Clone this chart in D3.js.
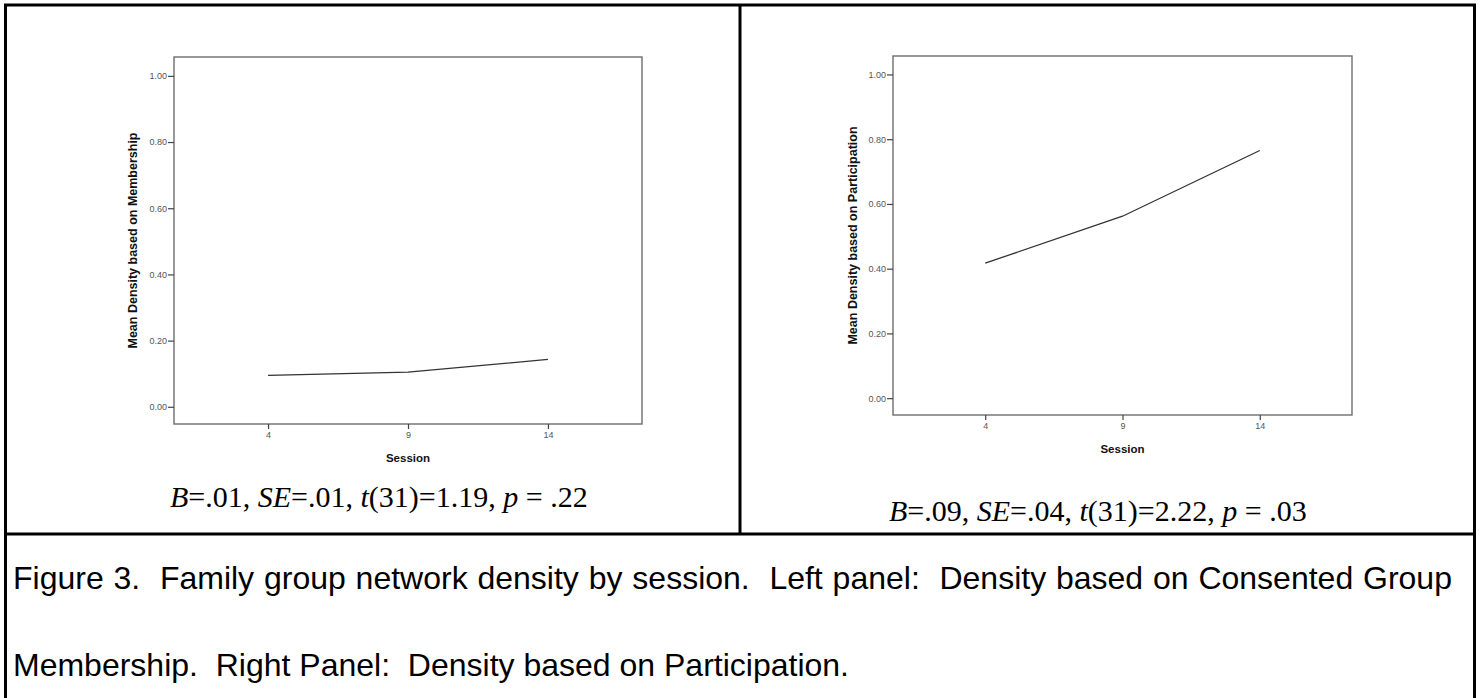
<!DOCTYPE html>
<html>
<head>
<meta charset="utf-8">
<script src="https://cdn.jsdelivr.net/npm/d3@7"></script>
<style>
  html, body { margin: 0; padding: 0; background: #fff; }
  svg { display: block; }
</style>
</head>
<body>
<svg id="fig" width="1481" height="698"></svg>
<script>
// ---- data ----
const sessions = [4, 9, 14];
const membershipDensity = [0.095, 0.105, 0.143];
const participationDensity = [0.417, 0.562, 0.765];
const yTickValues = [0, 0.2, 0.4, 0.6, 0.8, 1.0];
const xTickValues = [4, 9, 14];
const yTitles = ["Mean Density based on Membership", "Mean Density based on Participation"];
const xTitle = "Session";
const statsLeft = [["B", true], ["=.01, ", false], ["SE", true], ["=.01, ", false], ["t", true], ["(31)=1.19, ", false], ["p", true], [" = .22", false]];
const statsRight = [["B", true], ["=.09, ", false], ["SE", true], ["=.04, ", false], ["t", true], ["(31)=2.22, ", false], ["p", true], [" = .03", false]];
const captionLines = [
  "Figure 3.  Family group network density by session.  Left panel:  Density based on Consented Group",
  "Membership.  Right Panel:  Density based on Participation."
];

const svg = d3.select("#fig");
svg.append("rect").attr("width", 1481).attr("height", 698).attr("fill", "#fff");

// ---- table borders ----
const tbl = svg.append("g").attr("stroke", "#000").attr("stroke-width", 3);
tbl.append("line").attr("x1", 4).attr("x2", 1476).attr("y1", 5).attr("y2", 5);
tbl.append("line").attr("x1", 5.5).attr("x2", 5.5).attr("y1", 4).attr("y2", 698);
tbl.append("line").attr("x1", 1474.5).attr("x2", 1474.5).attr("y1", 4).attr("y2", 698);
tbl.append("line").attr("x1", 4).attr("x2", 1476).attr("y1", 534).attr("y2", 534);
tbl.append("line").attr("x1", 740).attr("x2", 740).attr("y1", 4).attr("y2", 534);

// ---- panels ----
const panels = [
  { values: membershipDensity, title: yTitles[0], x0: 174, x1: 642, y0: 57, y1: 424, ytx: 133 },
  { values: participationDensity, title: yTitles[1], x0: 893, x1: 1352, y0: 56, y1: 415, ytx: 853 }
];

panels.forEach(p => {
  const x = d3.scaleLinear().domain([0.64, 17.36]).range([p.x0, p.x1]);
  const y = d3.scaleLinear().domain([-0.052, 1.057]).range([p.y1, p.y0]);
  const g = svg.append("g");

  g.append("rect")
    .attr("x", p.x0).attr("y", p.y0)
    .attr("width", p.x1 - p.x0).attr("height", p.y1 - p.y0)
    .attr("fill", "none").attr("stroke", "#6e6e6e").attr("stroke-width", 1.4);

  const ya = g.append("g").attr("transform", `translate(${p.x0},0)`)
    .call(d3.axisLeft(y).tickValues(yTickValues).tickFormat(d3.format(".2f")).tickSize(6).tickPadding(1));
  ya.select(".domain").remove();
  ya.selectAll(".tick line").attr("stroke", "#444").attr("stroke-width", 1.2);
  ya.selectAll(".tick text").attr("fill", "#555").style("font-family", "Liberation Sans, Arial, sans-serif").style("font-size", "9px");

  const xa = g.append("g").attr("transform", `translate(0,${p.y1})`)
    .call(d3.axisBottom(x).tickValues(xTickValues).tickFormat(d3.format("d")).tickSize(5).tickPadding(3));
  xa.select(".domain").remove();
  xa.selectAll(".tick line").attr("stroke", "#444").attr("stroke-width", 1.2);
  xa.selectAll(".tick text").attr("fill", "#555").style("font-family", "Liberation Sans, Arial, sans-serif").style("font-size", "9px");

  const pts = sessions.map((s, i) => [s, p.values[i]]);
  g.append("path").datum(pts)
    .attr("fill", "none").attr("stroke", "#333").attr("stroke-width", 1.3)
    .attr("d", d3.line().x(d => x(d[0])).y(d => y(d[1])));

  g.append("text")
    .attr("transform", `translate(${p.ytx},${(p.y0 + p.y1) / 2}) rotate(-90)`)
    .attr("text-anchor", "middle").attr("dominant-baseline", "central")
    .style("font-family", "Liberation Sans, Arial, sans-serif").style("font-size", "12.5px").style("font-weight", "bold")
    .attr("fill", "#111").text(p.title);
  g.append("text")
    .attr("x", (p.x0 + p.x1) / 2).attr("y", p.y1 + 34)
    .attr("text-anchor", "middle").attr("dominant-baseline", "central")
    .style("font-family", "Liberation Sans, Arial, sans-serif").style("font-size", "11.5px").style("font-weight", "bold")
    .attr("fill", "#111").text(xTitle);
});

// ---- stats text ----
function stats(parts, xx, yy) {
  const t = svg.append("text").attr("x", xx).attr("y", yy)
    .style("font-family", "Liberation Serif, Times New Roman, serif").style("font-size", "30px").attr("fill", "#000")
    .attr("xml:space", "preserve");
  parts.forEach(([s, it]) => t.append("tspan").style("font-style", it ? "italic" : "normal").text(s));
}
stats(statsLeft, 170, 507);
stats(statsRight, 889, 521);

// ---- caption: first line fills the cell width, second line at the same size ----
const capFont = "Liberation Sans, Arial, sans-serif";
const cap1 = svg.append("text").attr("x", 13).attr("y", 589)
  .style("font-family", capFont).style("font-size", "20px").attr("fill", "#000")
  .attr("xml:space", "preserve").text(captionLines[0]);
const w20 = cap1.node().getComputedTextLength();
const capSize = Math.min(32, 20 * 1439 / w20);
cap1.style("font-size", capSize + "px");
const natural = cap1.node().getComputedTextLength();
const nSpaceChars = (captionLines[0].match(/ /g) || []).length;
cap1.attr("word-spacing", Math.max(0, (1439 - natural) / nSpaceChars).toFixed(2));
svg.append("text").attr("x", 13).attr("y", 676)
  .style("font-family", capFont).style("font-size", capSize + "px").attr("fill", "#000")
  .attr("xml:space", "preserve").text(captionLines[1]);
</script>
</body>
</html>
